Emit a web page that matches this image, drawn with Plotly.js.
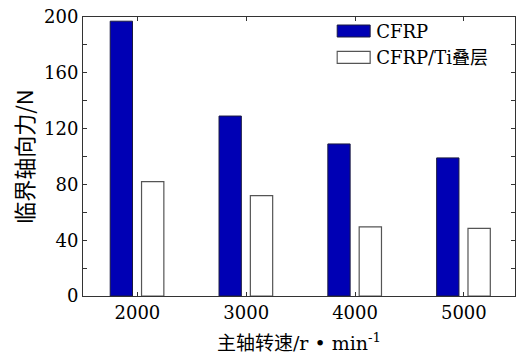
<!DOCTYPE html>
<html>
<head>
<meta charset="utf-8">
<script src="https://cdn.plot.ly/plotly-3.0.1.min.js"></script>
<style>html,body{margin:0;padding:0;background:#fff;}#chart{width:516px;height:354px;}</style>
</head>
<body>
<div id="chart"></div>
<script>
// Spindle speeds (r/min) and critical thrust force (N) for each material
var speeds = [2000, 3000, 4000, 5000];
var speedLabels = ['2000', '3000', '4000', '5000'];
var cfrpForce = [197, 129, 109, 99];
var stackForce = [82, 72, 49.5, 48.5];
var seriesNames = ['CFRP', 'CFRP/Ti叠层'];

var latin = '"DejaVu Serif", "Noto Sans CJK SC", serif';
var cjk = '"Noto Sans CJK SC", "DejaVu Serif", sans-serif';

var traces = [
  {
    type: 'bar', x: speeds, y: cfrpForce, name: seriesNames[0],
    width: 205, offset: -250,
    marker: {color: '#0000b4', line: {color: '#1a1a40', width: 1}}
  },
  {
    type: 'bar', x: speeds, y: stackForce, name: seriesNames[1],
    width: 205, offset: 38,
    marker: {color: '#ffffff', line: {color: '#555555', width: 1.2}}
  }
];

var layout = {
  width: 516, height: 354,
  margin: {l: 83, r: 1, t: 17, b: 58, autoexpand: false},
  paper_bgcolor: '#ffffff', plot_bgcolor: '#ffffff',
  barmode: 'overlay',
  showlegend: true,
  legend: {
    x: 0.586, y: 1.015, xanchor: 'left', yanchor: 'top',
    bgcolor: 'rgba(0,0,0,0)', borderwidth: 0,
    font: {family: latin, size: 18, color: '#000'},
    tracegroupgap: 0, itemwidth: 30
  },
  xaxis: {
    range: [1500, 5470],
    tickvals: speeds, ticktext: speedLabels,
    ticks: 'inside', ticklen: 4, tickcolor: '#333',
    showline: true, linecolor: '#333', linewidth: 1, mirror: 'ticks',
    showgrid: false, zeroline: false,
    tickfont: {family: latin, size: 18, color: '#000'},
    title: {text: '主轴转速/r • min<sup>-1</sup>', font: {family: latin, size: 19, color: '#000'}, standoff: 17}
  },
  yaxis: {
    range: [0, 200], dtick: 40, tick0: 0,
    ticks: 'inside', ticklen: 4, tickcolor: '#333',
    minor: {dtick: 20, ticks: 'inside', ticklen: 4, tickcolor: '#333'},
    showline: true, linecolor: '#333', linewidth: 1, mirror: 'ticks',
    showgrid: false, zeroline: false,
    tickfont: {family: latin, size: 18, color: '#000'},
    title: {text: '临界轴向力/N', font: {family: cjk, size: 22, color: '#000'}, standoff: 4}
  }
};

Plotly.newPlot('chart', traces, layout, {displayModeBar: false, staticPlot: true}).then(function (gd) {
  // draw each legend swatch as a wide flat rectangle ending just before its label
  var items = gd.querySelectorAll('.legend .traces');
  items.forEach(function (item) {
    var text = item.querySelector('text.legendtext');
    var paths = item.querySelectorAll('.legendpoints path');
    if (!text || !paths.length) return;
    var textLeft = text.getBoundingClientRect().left;
    paths.forEach(function (p) {
      var ctm = p.getScreenCTM();
      var right = textLeft - 6 - ctm.e;
      var left = right - 33;
      p.setAttribute('d', 'M' + left + ',6H' + right + 'V-6H' + left + 'Z');
    });
  });
});
</script>
</body>
</html>
